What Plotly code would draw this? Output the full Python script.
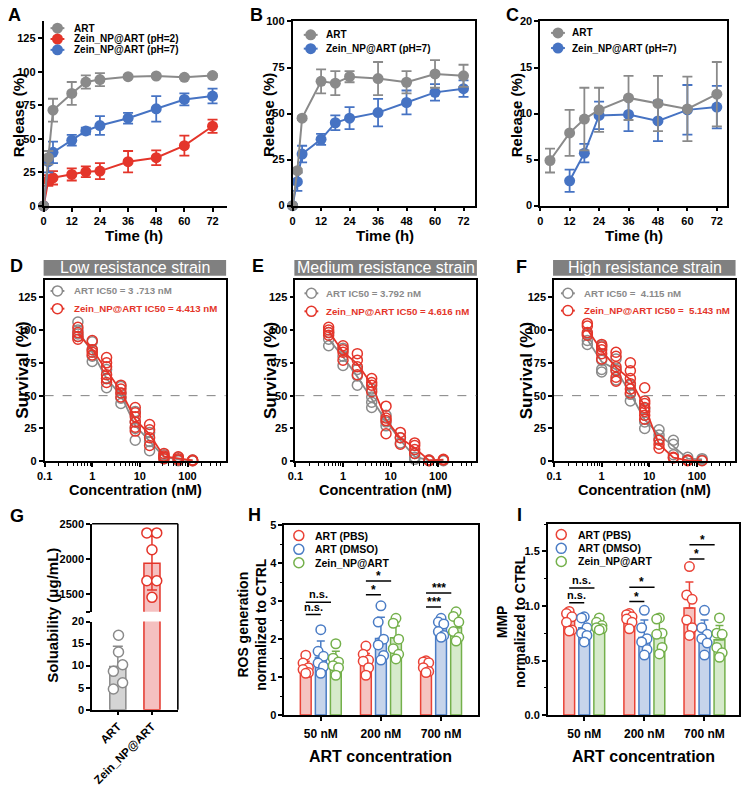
import numpy as np
import plotly.graph_objects as go

W, H = 741, 793
FONT = "Liberation Sans"

# ---------------- data ----------------
# A: release, pH comparisons
time_h = [0, 2, 4, 12, 18, 24, 36, 48, 60, 72]
A_art = [0, 36, 71.5, 84, 92.5, 94.3, 96.5, 97, 96, 97.3]
A_art_sd = [0, 5, 8.5, 8.5, 5, 4.8, 1, 1, 1, 1]
A_ph2 = [0, 19, 21, 23.5, 25.5, 26, 33, 36, 45, 59.5]
A_ph2_sd = [0, 4, 5, 4.5, 4, 6, 8, 5.5, 7.5, 5]
A_ph7 = [0, 33, 40, 49, 56, 60, 65.5, 72.5, 79.5, 82]
A_ph7_sd = [0, 8, 8, 4, 2.5, 7, 4, 9.5, 4.5, 5.5]

# B
B_art = [0, 19, 47.5, 67.5, 66.5, 70, 69, 67, 71.5, 70.5]
B_art_sd = [0, 1, 1, 6.5, 6.5, 3, 9, 6, 7.5, 6]
B_ph7 = [0, 13, 28, 36, 45, 47.5, 50.5, 56, 61.5, 63.5]
B_ph7_sd = [0, 5, 4.5, 3, 4, 6, 7.5, 6.5, 4.5, 4.5]

# C
time_C_art = [4, 12, 18, 24, 36, 48, 60, 72]
C_art = [4.9, 7.9, 9.4, 10.4, 11.7, 11.1, 10.5, 12.1]
C_art_sd = [1.3, 2.5, 3.4, 2.4, 2.4, 3.0, 3.5, 3.5]
time_C_np = [12, 18, 24, 36, 48, 60, 72]
C_np = [2.7, 5.7, 9.8, 9.9, 9.2, 10.4, 10.7]
C_np_sd = [1.2, 1.0, 1.5, 1.8, 2.2, 2.7, 2.3]

# D-F: survival vs concentration (replicates per concentration)
conc = [0.5, 1, 2, 4, 8, 16, 32, 64, 128]
D_art = [[106, 100, 97, 95], [91, 85, 80, 76], [70, 63, 56], [57, 52, 48, 44], [38, 30, 25, 16],
         [22, 15, 8], [5, 3, 2], [3, 1, 0.5], [1, 0.5]]
D_np = [[102, 98, 95, 93], [92, 85, 83, 81], [79, 75, 72, 66, 63, 60], [58, 55, 52, 49],
        [41, 37, 34, 30, 26, 23], [28, 24, 18, 12], [6, 4, 3, 2], [3.5, 2, 1], [1, 0.5]]
E_art = [[98, 93, 88], [86, 80, 73], [70, 65, 58], [55, 49, 45, 41], [35, 30, 27], [18, 14],
         [6, 3, 1.5], [1, 0.5], [1, 0.5]]
E_np = [[102, 100, 98, 96], [88, 85, 83, 77], [82, 77, 72, 66], [63, 60, 58, 53], [42, 33, 31, 21],
        [22, 18, 13], [14, 12, 9, 6], [1, 0.5], [1.5, 1]]
F_art = [[97, 92, 89], [88, 77, 70, 68], [78, 70, 62], [58, 51, 46], [40, 30, 25], [24, 20, 17],
         [16, 13, 5], [3, 1], [2, 1]]
F_np = [[105, 103, 98, 96], [89, 87, 85, 82, 78], [83, 80, 72, 69, 64, 61], [75, 69, 63, 59, 55, 52],
        [56, 46, 44, 41, 38, 35, 32], [16, 13, 10], [3, 2.5], [1, 0.5], [0.5]]
strain_titles = ["Low resistance strain", "Medium resistance strain", "High resistance strain"]
ic50_art = ["ART IC50 = 3 .713 nM", "ART IC50 = 3.792 nM", "ART IC50 =  4.115 nM"]
ic50_np = ["Zein_NP@ART IC50 = 4.413 nM", "Zein_NP@ART IC50 = 4.616 nM", "Zein_NP@ART IC50 =  5.143 nM"]

# G: solubility
sol_cats = ["ART", "Zein_NP@ART"]
sol_mean = [9.8, 1940]
sol_sd = [4.6, 382]
sol_art_pts = [16.9, 13.1, 10.2, 8.7, 6.1, 4.7]
sol_np_pts = [2370, 2370, 2130, 1690, 1690, 1454]

# H: ROS
groups = ["50 nM", "200 nM", "700 nM"]
H_pbs_mean = [1.27, 1.45, 1.25]
H_pbs_sd = [0.15, 0.17, 0.12]
H_dmso_mean = [1.52, 2.02, 2.3]
H_dmso_sd = [0.43, 0.56, 0.16]
H_zein_mean = [1.4, 2.04, 2.3]
H_zein_sd = [0.28, 0.31, 0.27]
H_pbs_pts = [[1.58, 1.37, 1.25, 1.2, 1.12, 1.1], [1.82, 1.6, 1.45, 1.42, 1.25, 1.05], [1.43, 1.4, 1.38, 1.25, 1.15, 1.12]]
H_dmso_pts = [[2.25, 1.68, 1.55, 1.37, 1.28, 1.1], [2.88, 2.45, 2.0, 1.85, 1.57, 1.45], [2.55, 2.45, 2.4, 2.2, 2.1, 2.05]]
H_zein_pts = [[1.88, 1.5, 1.4, 1.3, 1.25, 1.05], [2.55, 2.42, 2.0, 1.75, 1.6, 1.48], [2.72, 2.6, 2.45, 2.2, 2.05, 1.95]]
H_sig = [(0, 1, 2.65, "n.s."), (0, 2, 2.97, "n.s."), (1, 1, 3.17, "*"), (1, 2, 3.53, "*"),
         (2, 1, 2.85, "***"), (2, 2, 3.22, "***")]

# I: MMP
I_pbs_mean = [0.89, 0.9, 0.98]
I_pbs_sd = [0.05, 0.04, 0.24]
I_dmso_mean = [0.8, 0.71, 0.73]
I_dmso_sd = [0.08, 0.16, 0.14]
I_zein_mean = [0.83, 0.74, 0.69]
I_zein_sd = [0.04, 0.14, 0.13]
I_pbs_pts = [[0.95, 0.93, 0.9, 0.85, 0.78, 0.77], [0.93, 0.92, 0.9, 0.88, 0.85, 0.79], [1.36, 1.1, 1.06, 0.87, 0.8, 0.73]]
I_dmso_pts = [[0.9, 0.89, 0.8, 0.75, 0.73, 0.67], [0.96, 0.8, 0.7, 0.67, 0.6, 0.55], [0.96, 0.8, 0.74, 0.7, 0.66, 0.55]]
I_zein_pts = [[0.89, 0.85, 0.82, 0.8, 0.79, 0.78], [0.89, 0.88, 0.75, 0.74, 0.62, 0.56], [0.89, 0.75, 0.74, 0.62, 0.57, 0.53]]
I_sig = [(0, 1, 1.03, "n.s."), (0, 2, 1.165, "n.s."), (1, 1, 1.04, "*"), (1, 2, 1.17, "*"),
         (2, 1, 1.43, "*"), (2, 2, 1.56, "*")]

series_names = ["ART (PBS)", "ART (DMSO)", "Zein_NP@ART"]

# ---------------- style ----------------
GRAY = "#8a8a8a"
RED = "#e4352a"
BLUE = "#4673c3"
EDGE3 = ["#ea4236", "#4a7cc5", "#74b04b"]
FILL3 = ["#f5c3c0", "#c6d4eb", "#d6eacb"]
OFFS = [-0.25, 0.0, 0.25]
JIT = [0.0, -0.045, 0.045, -0.045, 0.045, 0.0]
G_JIT_ART = [0.02, 0.02, 0.14, -0.13, 0.14, -0.13]
G_JIT_NP = [-0.15, 0.14, 0.0, -0.15, 0.14, 0.0]

fig = go.Figure()


def px(x):
    return x / W


def py(y):
    return 1 - y / H


# ---- Row 1 ----
for ax, specs in [
    ("", [(time_h, A_ph2, A_ph2_sd, RED), (time_h, A_ph7, A_ph7_sd, BLUE), (time_h, A_art, A_art_sd, GRAY)]),
    ("2", [(time_h, B_ph7, B_ph7_sd, BLUE), (time_h, B_art, B_art_sd, GRAY)]),
    ("3", [(time_C_np, C_np, C_np_sd, BLUE), (time_C_art, C_art, C_art_sd, GRAY)]),
]:
    for xs, ys, sd, col in specs:
        fig.add_trace(go.Scatter(
            x=xs, y=ys, mode="lines+markers",
            line=dict(color=col, width=2),
            marker=dict(size=11, color=col),
            error_y=dict(type="data", array=sd, color=col, thickness=1.8, width=5),
            cliponaxis=False, xaxis="x" + ax, yaxis="y" + ax))

# ---- Row 2 ----
for n, (art, npd) in zip([4, 5, 6], [(D_art, D_np), (E_art, E_np), (F_art, F_np)]):
    for reps, col in [(art, GRAY), (npd, RED)]:
        xs = [c for c, r in zip(conc, reps) for _ in r]
        ys = [v for r in reps for v in r]
        means = [float(np.mean(r)) for r in reps]
        fig.add_trace(go.Scatter(
            x=xs, y=ys, mode="markers",
            marker=dict(symbol="circle-open", size=10, color=col, line=dict(width=1.5)),
            cliponaxis=False, xaxis=f"x{n}", yaxis=f"y{n}"))
        fig.add_trace(go.Scatter(
            x=conc, y=means, mode="lines", line=dict(color=col, width=1.8),
            xaxis=f"x{n}", yaxis=f"y{n}"))

# ---- G ----
fig.add_trace(go.Bar(
    x=[0], y=[sol_mean[0]], width=0.47,
    marker=dict(color="#d4d4d4", line=dict(color=GRAY, width=1.5)),
    error_y=dict(type="data", array=[sol_sd[0]], arrayminus=[0], symmetric=False,
                 color=GRAY, thickness=1.5, width=5),
    xaxis="x7", yaxis="y7"))
for yax, err in [("y7", None), ("y8", sol_sd[1])]:
    fig.add_trace(go.Bar(
        x=[1], y=[sol_mean[1]], width=0.47,
        marker=dict(color="#f5c0c0", line=dict(color=RED, width=1.5)),
        error_y=(dict(type="data", array=[err], color=RED, thickness=1.5, width=5)
                 if err is not None else None),
        xaxis="x7", yaxis=yax))
fig.add_trace(go.Scatter(
    x=[0 + j for j in G_JIT_ART], y=sol_art_pts, mode="markers",
    marker=dict(symbol="circle", size=10, color="white", line=dict(color=GRAY, width=1.5)),
    xaxis="x7", yaxis="y7", cliponaxis=False))
fig.add_trace(go.Scatter(
    x=[1 + j for j in G_JIT_NP], y=sol_np_pts, mode="markers",
    marker=dict(symbol="circle", size=10, color="white", line=dict(color=RED, width=1.5)),
    xaxis="x7", yaxis="y8", cliponaxis=False))

# ---- H and I ----
shapes = []
ann = []


def bar_panel(n, means, sds, pts, sig):
    for k in range(3):
        fig.add_trace(go.Bar(
            x=[g + OFFS[k] for g in range(3)], y=means[k], width=0.18,
            marker=dict(color=FILL3[k], line=dict(color=EDGE3[k], width=1.5)),
            error_y=dict(type="data", array=sds[k], arrayminus=[0] * 3, symmetric=False,
                         color=EDGE3[k], thickness=1.5, width=4),
            xaxis=f"x{n}", yaxis=f"y{n}"))
    for k in range(3):
        xs = [g + OFFS[k] + JIT[j] for g in range(3) for j in range(len(pts[k][g]))]
        ys = [v for g in range(3) for v in pts[k][g]]
        fig.add_trace(go.Scatter(
            x=xs, y=ys, mode="markers",
            marker=dict(symbol="circle", size=9.5, color="white", line=dict(color=EDGE3[k], width=1.5)),
            xaxis=f"x{n}", yaxis=f"y{n}", cliponaxis=False))
    for g, pair, yv, lab in sig:
        x0 = g + OFFS[0]
        x1 = g if pair == 1 else g + 0.17
        shapes.append(dict(type="line", xref=f"x{n}", yref=f"y{n}", x0=x0, x1=x1, y0=yv, y1=yv,
                           line=dict(color="black", width=1.5)))
        star = lab != "n.s."
        ann.append(dict(x=(x0 + x1) / 2, y=yv, xref=f"x{n}", yref=f"y{n}", text=lab, showarrow=False,
                        yanchor="bottom", yshift=(-4 if star else 0),
                        font=dict(family=FONT, size=(12 if star else 11), color="black", weight="bold")))


bar_panel(9, [H_pbs_mean, H_dmso_mean, H_zein_mean], [H_pbs_sd, H_dmso_sd, H_zein_sd],
          [H_pbs_pts, H_dmso_pts, H_zein_pts], H_sig)
bar_panel(10, [I_pbs_mean, I_dmso_mean, I_zein_mean], [I_pbs_sd, I_dmso_sd, I_zein_sd],
          [I_pbs_pts, I_dmso_pts, I_zein_pts], I_sig)

# ---- legend keys (overlay pixel axis) ----


def key(x, y, col, kind):
    if kind in ("filled", "openline"):
        fig.add_trace(go.Scatter(x=[x - 7, x + 7], y=[y, y], mode="lines", line=dict(color=col, width=2),
                                 xaxis="x11", yaxis="y11"))
    if kind == "filled":
        m = dict(symbol="circle", size=11, color=col)
    else:
        m = dict(symbol="circle", size=10, color="white", line=dict(color=col, width=1.5))
    fig.add_trace(go.Scatter(x=[x], y=[y], mode="markers", marker=m, xaxis="x11", yaxis="y11"))


def text(x, y, t, size, color="black", bold=True, angle=0, xanchor="center", yanchor="middle"):
    ann.append(dict(x=px(x), y=py(y), xref="paper", yref="paper", text=t, showarrow=False,
                    textangle=angle, xanchor=xanchor, yanchor=yanchor,
                    font=dict(family=FONT, size=size, color=color, weight="bold" if bold else "normal")))


# A-C legends
for (mx, tx, rows) in [(50, 65, [("ART", GRAY, 22.5), ("Zein_NP@ART (pH=2)", RED, 33.5), ("Zein_NP@ART (pH=7)", BLUE, 44.5)]),
                       (306, 319, [("ART", GRAY, 29.3), ("Zein_NP@ART (pH=7)", BLUE, 43.3)]),
                       (556, 568.3, [("ART", GRAY, 27.3), ("Zein_NP@ART (pH=7)", BLUE, 42.7)])]:
    for lab, col, yy in rows:
        key(mx, yy, col, "filled")
        text(tx, yy, lab, 10, xanchor="left")

# D-F domains
ROW2_DOM = [(37, 220), (290.5, 473.5), (552, 735)]

# D-F legends + bands
for i, (mx, tx, r1, r2) in enumerate([(50, 65, 289.3, 307.3),
                                       (306.7, 319.3, 291.7, 310),
                                       (566, 580.7, 291.7, 309.3)]):
    bl, br = ROW2_DOM[i]
    key(mx, r1, GRAY, "openline")
    key(mx, r2, RED, "openline")
    text(tx, r1, ic50_art[i], 9.7, color=GRAY, xanchor="left")
    text(tx, r2, ic50_np[i], 9.7, color=RED, xanchor="left")
    shapes.append(dict(type="rect", xref="paper", yref="paper", x0=px(bl - 1), x1=px(br + 0.5), y0=py(274), y1=py(258),
                       fillcolor="#808080", line=dict(width=0), layer="below"))
    text((bl + br) / 2, 266, strain_titles[i], 16, color="white", bold=False)
    n = 4 + i
    shapes.append(dict(type="line", xref=f"x{n} domain", yref=f"y{n}", x0=0, x1=1, y0=50, y1=50,
                       line=dict(color="#808080", width=1, dash="dash")))

# H, I legends
for mx, tx, rows in [(294, 308, [537.7, 551.7, 565.3]), (559.3, 574, [536.7, 550.7, 564])]:
    for k, yy in enumerate(rows):
        key(mx, yy, EDGE3[k], "open")
        text(tx, yy, series_names[k], 10.5, xanchor="left")

# G box (top/right borders)
shapes.append(dict(type="line", xref="paper", yref="paper", x0=px(85), x1=px(171.7), y0=py(525.7), y1=py(525.7),
                   line=dict(color="black", width=1.6)))
shapes.append(dict(type="line", xref="paper", yref="paper", x0=px(171.7), x1=px(171.7), y0=py(525.7), y1=py(714.5),
                   line=dict(color="black", width=1.6)))

# Panel letters
for lab, x, y in [("A", 7, 9), ("B", 251, 9), ("C", 510, 9), ("D", 9, 263.5), ("E", 252.5, 264),
                  ("F", 519, 265), ("G", 9, 517.5), ("H", 249, 516.5), ("I", 517, 516.5)]:
    text(x, y, lab, 18)

# Axis titles
for x in [127, 381, 633]:
    text(x, 233.3, "Time (h)", 15)
for x in [10, 263.5, 513.5]:
    text(x, 111, "Release (%)", 15, angle=-90)
for x in [128.5, 382, 643.5]:
    text(x, 491, "Concentration (nM)", 14.5)
for x in [14.5, 265.5, 524.5]:
    text(x, 370, "Survival (%)", 17, angle=-90)
text(45.5, 619, "Soluability (μg/mL)", 15, angle=-90)
text(247, 628, "ROS generation<br>normalized to CTRL", 14, angle=-90)
text(508, 625, "MMP<br>normalized to CTRL", 14, angle=-90)
text(377, 761.7, "ART concentration", 16)
text(642.5, 761.7, "ART concentration", 16)

# ---------------- axes ----------------
TF = dict(family=FONT, size=11, color="black", weight="bold")


def xa(l, r, rng, anchor, **kw):
    d = dict(domain=[px(l), px(r)], range=rng, anchor=anchor, showline=True, linecolor="black", linewidth=1.6,
             ticks="outside", ticklen=4, tickwidth=1.5, tickcolor="black", showgrid=False, zeroline=False,
             tickfont=TF, fixedrange=True)
    d.update(kw)
    return d


def ya(t, b, rng, anchor, **kw):
    d = dict(domain=[py(b), py(t)], range=rng, anchor=anchor, showline=True, linecolor="black", linewidth=1.6,
             ticks="outside", ticklen=4, tickwidth=1.5, tickcolor="black", showgrid=False, zeroline=False,
             tickfont=TF, fixedrange=True)
    d.update(kw)
    return d


tv_time = list(range(0, 73, 12))
minor_log = [m * 10.0 ** e for e in range(-1, 3) for m in range(2, 10) if m * 10.0 ** e < 600]
MINOR_LOG = dict(tickvals=minor_log, ticks="outside", ticklen=2.5, tickwidth=1, tickcolor="black", showgrid=False)
log_kw = dict(type="log", tickvals=[0.1, 1, 10, 100], ticktext=["0.1", "1", "10", "100"], mirror=True,
              minor=MINOR_LOG)
surv_tv = [0, 25, 50, 75, 100, 125]
LOG_RANGE = [-1.0, 2.8]

layout = dict(
    width=W, height=H, margin=dict(l=0, r=0, t=0, b=0), paper_bgcolor="white",
    plot_bgcolor="rgba(0,0,0,0)", showlegend=False, barmode="overlay",
    font=dict(family=FONT, color="black"),
    xaxis=xa(36, 221, [0, 78], "y", tickvals=tv_time),
    yaxis=ya(15.3, 203, [0, 138], "x", tickvals=[0, 25, 50, 75, 100, 125]),
    xaxis2=xa(287.7, 472, [0, 76.8], "y2", tickvals=tv_time, mirror=True),
    yaxis2=ya(15.7, 202.7, [0, 100], "x2", tickvals=[0, 25, 50, 75, 100], mirror=True),
    xaxis3=xa(538, 727, [0, 76.2], "y3", tickvals=tv_time, mirror=True),
    yaxis3=ya(15.7, 202.7, [0, 20], "x3", tickvals=[0, 5, 10, 15, 20], mirror=True),
    xaxis4=xa(ROW2_DOM[0][0], ROW2_DOM[0][1], LOG_RANGE, "y4", **log_kw),
    yaxis4=ya(278.3, 462.3, [0, 138], "x4", tickvals=surv_tv, mirror=True),
    xaxis5=xa(ROW2_DOM[1][0], ROW2_DOM[1][1], LOG_RANGE, "y5", **log_kw),
    yaxis5=ya(278.3, 462.3, [0, 138], "x5", tickvals=surv_tv, mirror=True),
    xaxis6=xa(ROW2_DOM[2][0], ROW2_DOM[2][1], LOG_RANGE, "y6", **log_kw),
    yaxis6=ya(278.3, 462.3, [0, 138], "x6", tickvals=surv_tv, mirror=True),
    xaxis7=xa(85, 171.7, [-0.754, 1.758], "y7", tickvals=[0, 1], ticktext=sol_cats, tickangle=-45,
              tickfont=dict(family=FONT, size=11.5, color="black", weight="bold")),
    yaxis7=ya(625, 714.5, [0, 20], "x7", tickvals=[0, 5, 10, 15, 20]),
    yaxis8=ya(525.7, 615, [1250, 2500], "x7", tickvals=[1250, 1500, 2000, 2500],
              ticktext=["", "1500", "2000", "2500"]),
    xaxis9=xa(279.3, 475, [-0.607, 2.612], "y9", tickvals=[0, 1, 2], ticktext=groups, mirror=True,
              tickfont=dict(family=FONT, size=12, color="black", weight="bold"), ticklabelstandoff=3),
    yaxis9=ya(527.3, 720, [0, 5], "x9", dtick=1, tick0=0, mirror=True,
              minor=dict(dtick=0.5, ticks="outside", ticklen=2.5, tickwidth=1.2, tickcolor="black")),
    xaxis10=xa(545.7, 739.3, [-0.606, 2.58], "y10", tickvals=[0, 1, 2], ticktext=groups, mirror=True,
               tickfont=dict(family=FONT, size=12, color="black", weight="bold"), ticklabelstandoff=3),
    yaxis10=ya(526, 720, [0, 1.75], "x10", dtick=0.5, tick0=0, tickformat=".1f", mirror=True,
               minor=dict(dtick=0.25, ticks="outside", ticklen=2.5, tickwidth=1.2, tickcolor="black")),
    xaxis11=dict(domain=[0, 1], range=[0, W], visible=False, anchor="y11", fixedrange=True),
    yaxis11=dict(domain=[0, 1], range=[H, 0], visible=False, anchor="x11", fixedrange=True),
    shapes=shapes,
    annotations=ann,
)
fig.update_layout(**layout)
fig.write_html("out.html")
